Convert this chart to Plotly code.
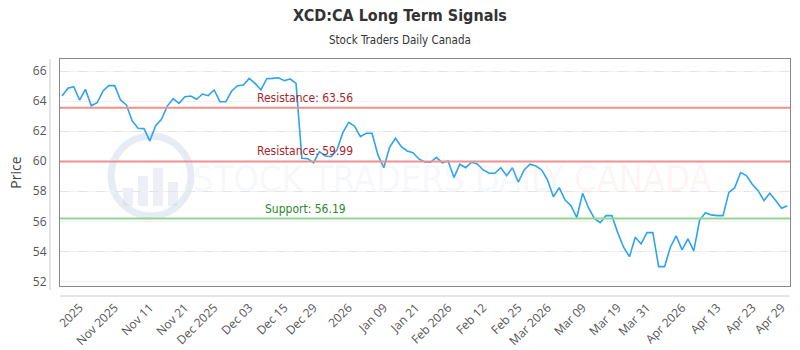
import plotly.graph_objects as go

# ---- data ----
prices = [
    64.34, 64.85, 64.96, 64.07, 64.78, 63.69, 63.89, 64.67, 65.03, 65.03,
    64.07, 63.74, 62.68, 62.19, 62.17, 61.35, 62.37, 62.79, 63.67, 64.16,
    63.85, 64.29, 64.34, 64.12, 64.47, 64.36, 64.74, 63.96, 63.96, 64.67,
    65.02, 65.07, 65.51, 65.18, 64.74, 65.49, 65.51, 65.55, 65.36, 65.47,
    65.18, 60.20, 60.17, 59.90, 60.64, 60.35, 60.30, 60.75, 61.90, 62.59,
    62.34, 61.63, 61.86, 61.86, 60.42, 59.57, 60.93, 61.53, 60.97, 60.68,
    60.57, 60.15, 59.95, 59.93, 60.26, 59.90, 60.02, 58.91, 59.80, 59.57,
    59.93, 59.82, 59.42, 59.20, 59.20, 59.57, 59.04, 59.57, 58.60, 59.42,
    59.80, 59.68, 59.42, 58.75, 57.64, 58.24, 57.42, 57.04, 56.25, 57.87,
    56.91, 56.20, 55.91, 56.38, 56.38, 55.25, 54.28, 53.65, 54.94, 54.50,
    55.25, 55.25, 52.99, 52.99, 54.28, 55.03, 54.10, 54.83, 54.03, 56.09,
    56.58, 56.43, 56.38, 56.38, 57.93, 58.24, 59.24, 59.04, 58.47, 58.04,
    57.38, 57.87, 57.38, 56.87, 57.04,
]
x_index = list(range(len(prices)))

tick_positions = [3, 9, 15, 21, 26, 32, 38, 43, 49, 55, 60.5, 66, 72, 78,
                  83, 89, 95, 100, 106, 112, 118, 123]
tick_labels = ["2025", "Nov 2025", "Nov 11", "Nov 21", "Dec 2025", "Dec 03",
               "Dec 15", "Dec 29", "2026", "Jan 09", "Jan 21", "Feb 2026",
               "Feb 12", "Feb 25", "Mar 2026", "Mar 09", "Mar 19", "Mar 31",
               "Apr 2026", "Apr 13", "Apr 23", "Apr 29"]

level_names = ["Resistance", "Resistance", "Support"]
level_values = [63.56, 59.99, 56.19]
level_label_x = [33.0, 33.0, 34.4]

title_text = "XCD:CA Long Term Signals"
subtitle_text = "Stock Traders Daily Canada"

# ---- figure ----
L, R, T, B = 60, 10, 59, 64
W, H = 800, 350
pw, ph = W - L - R, H - T - B

def px_x(p):
    return (p - L) / pw

def px_y(p):
    return (H - B - p) / ph

fig = go.Figure()

fig.add_trace(go.Scatter(
    x=x_index, y=prices, mode="lines",
    line=dict(color="#2ea3f2", width=1.6),
    hoverinfo="skip", showlegend=False,
))
# invisible trace on overlay axis for dashed grid
fig.add_trace(go.Scatter(x=[x_index[0]], y=[prices[0]], yaxis="y2",
                         mode="markers", marker=dict(opacity=0),
                         showlegend=False, hoverinfo="skip"))

level_line_colors = ["#f09090", "#f09090", "#94d494"]
level_text_colors = ["#a8262b", "#a8262b", "#2a8a2a"]
for name, val, lx, lc, tc in zip(level_names, level_values, level_label_x,
                                 level_line_colors, level_text_colors):
    fig.add_shape(type="line", xref="paper", x0=0, x1=1, yref="y", y0=val, y1=val,
                  line=dict(color=lc, width=2), layer="above")
    fig.add_annotation(x=lx, y=val, xref="x", yref="y", text=f"{name}: {val:.2f}",
                       showarrow=False, xanchor="left", yanchor="bottom", yshift=1,
                       font=dict(family="DejaVu Sans Condensed, Roboto, sans-serif",
                                 size=12, color=tc))

# watermark (single text, two colours)
fig.add_annotation(x=px_x(452), y=px_y(178), xref="paper", yref="paper",
                   text=('<span style="color:rgba(185,200,225,0.38)">STOCK TRADERS DAILY</span> '
                         '<span style="color:rgba(245,140,140,0.28)">CANADA</span>'),
                   showarrow=False,
                   font=dict(family="DejaVu Sans Condensed, sans-serif", size=36,
                             color="rgba(185,200,225,0.38)"))
fig.add_shape(type="circle", xref="paper", yref="paper",
              x0=px_x(111), x1=px_x(191), y0=px_y(216), y1=px_y(136),
              line=dict(color="rgba(200,212,230,0.45)", width=7), layer="below")
for bx0, bx1, btop in [(123, 133, 188), (138, 148, 176), (153, 163, 168), (168, 178, 182)]:
    fig.add_shape(type="rect", xref="paper", yref="paper",
                  x0=px_x(bx0), x1=px_x(bx1), y0=px_y(206), y1=px_y(btop),
                  line=dict(width=0), fillcolor="rgba(200,212,230,0.35)", layer="below")

# frame decorations
fig.add_shape(type="line", xref="paper", yref="paper", x0=px_x(50), x1=px_x(50),
              y0=px_y(59), y1=px_y(290), line=dict(color="#cccccc", width=1))
fig.add_shape(type="line", xref="paper", yref="paper", x0=0, x1=1,
              y0=px_y(296), y1=px_y(296), line=dict(color="#cccccc", width=1))

fig.add_annotation(text=subtitle_text, x=px_x(400), y=px_y(40), xref="paper", yref="paper",
                   showarrow=False, xanchor="center", yanchor="middle",
                   font=dict(family="DejaVu Sans Condensed, sans-serif", size=11.5, color="#333333"))

fig.update_layout(
    width=W, height=H,
    margin=dict(l=L, r=R, t=T, b=B, autoexpand=False),
    paper_bgcolor="white", plot_bgcolor="white",
    title=dict(text=f"<b>{title_text}</b>", x=0.5, xanchor="center",
               y=1 - 15 / H, yanchor="middle",
               font=dict(family="DejaVu Sans Condensed, sans-serif", size=16, color="#333333")),
    xaxis=dict(
        range=[-0.35, 124.45], tickmode="array", tickvals=tick_positions,
        ticktext=tick_labels, tickangle=-45, showgrid=False, zeroline=False,
        showline=True, mirror=True, linecolor="#888888", linewidth=1,
        ticks="", ticklabelstandoff=9, automargin=False,
        tickfont=dict(family="Open Sans, sans-serif", size=12, color="#555555"),
    ),
    yaxis=dict(
        range=[51.7, 66.8], dtick=2, tick0=52, showgrid=True, gridcolor="#f2f2f2",
        zeroline=False, showline=True, mirror=True, linecolor="#888888", linewidth=1,
        ticks="", ticklabelstandoff=10, automargin=False,
        tickfont=dict(family="Open Sans, sans-serif", size=12, color="#555555"),
        title=dict(text="Price", font=dict(family="Open Sans, sans-serif", size=14, color="#444444"),
                   standoff=7),
    ),
    yaxis2=dict(
        overlaying="y", range=[51.7, 66.8], dtick=4, tick0=54, showgrid=True,
        gridcolor="#e4e4e4", griddash="dash", showticklabels=False, zeroline=False,
        showline=False,
    ),
)

fig.write_html("out.html")
